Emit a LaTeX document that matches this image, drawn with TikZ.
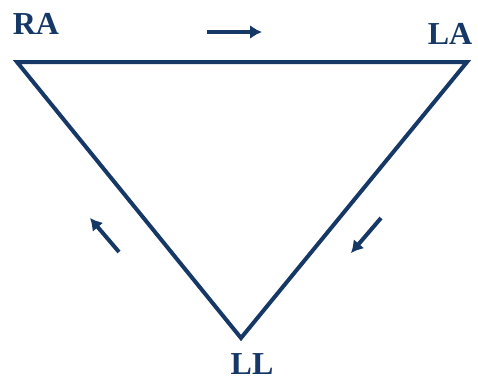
\documentclass[tikz,border=0pt]{standalone}
\usepackage{fontspec}
\setmainfont{Liberation Serif}
\usetikzlibrary{arrows.meta}
\definecolor{navy}{RGB}{22,56,102}
\begin{document}
\begin{tikzpicture}[x=1pt,y=-1pt,
  edge/.style={draw=navy,line width=4pt,line join=miter},
  dirarrow/.style={draw=navy,line width=4pt,-{Latex[length=12pt,width=14pt]}},
  lbl/.style={text=navy,font=\fontsize{32}{32}\selectfont\bfseries,inner sep=0pt}]
\useasboundingbox (0,0) rectangle (478,383);
\coordinate (ra) at (17,62);
\coordinate (la) at (467,62);
\coordinate (ll) at (241,338);
\draw[edge] (ra) -- (la) -- (ll) -- cycle;
\node[lbl] (raL) at (36,24) {RA};
\node[lbl] (laL) at (450,34) {LA};
\node[lbl] (llL) at (252,364) {LL};
\coordinate (t1) at (207,32);
\coordinate (t2) at (262,32);
\draw[dirarrow] (t1) -- (t2);
\coordinate (l1) at (119,252);
\coordinate (l2) at (90,218);
\draw[dirarrow] (l1) -- (l2);
\coordinate (r1) at (381,218);
\coordinate (r2) at (351,253);
\draw[dirarrow] (r1) -- (r2);
\end{tikzpicture}
\end{document}
